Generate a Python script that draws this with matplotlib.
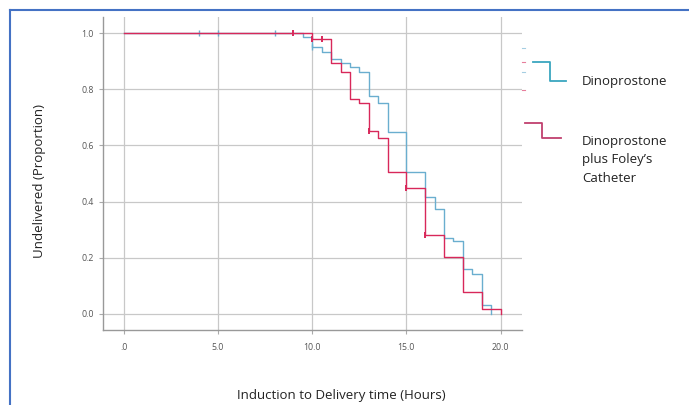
import matplotlib.pyplot as plt
from matplotlib.lines import Line2D

# Kaplan-Meier step data
dino_t = [0, 9.5, 10, 10.5, 11, 11.5, 12, 12.5, 13, 13.5, 14, 15, 16, 16.5, 17, 17.5, 18, 18.5, 19, 19.5]
dino_s = [1.0, 0.985, 0.949, 0.934, 0.906, 0.892, 0.880, 0.862, 0.776, 0.750, 0.649, 0.504,
          0.418, 0.374, 0.272, 0.258, 0.159, 0.142, 0.032, 0.0]
dino_cens_t = [4, 5, 8, 10]
dino_cens_s = [1.0, 1.0, 1.0, 0.949]

foley_t = [0, 10, 11, 11.5, 12, 12.5, 13, 13.5, 14, 15, 16, 17, 18, 19, 20]
foley_s = [1.0, 0.979, 0.894, 0.862, 0.765, 0.752, 0.651, 0.626, 0.507, 0.447, 0.281,
           0.204, 0.079, 0.016, 0.0]
foley_cens_t = [9, 10, 10.5, 13, 15, 16]
foley_cens_s = [1.0, 0.979, 0.979, 0.651, 0.447, 0.281]

xticks = [0, 5, 10, 15, 20]
xticklabels = ['.0', '5.0', '10.0', '15.0', '20.0']
yticks = [0.0, 0.2, 0.4, 0.6, 0.8, 1.0]
yticklabels = ['0.0', '0.2', '0.4', '0.6', '0.8', '1.0']

blue = '#6aaecf'
red = '#d8285a'
W, H = 689, 405
plt.rcParams['font.family'] = ['Open Sans', 'DejaVu Sans']

fig = plt.figure(figsize=(W / 100, H / 100), dpi=100)
ax = fig.add_axes([103 / W, 1 - 330 / H, (522 - 103) / W, (330 - 17) / H])

ax.step(dino_t, dino_s, where='post', color=blue, lw=1.0, zorder=3)
ax.plot(dino_cens_t, dino_cens_s, ls='none', marker='|', ms=5, mew=1.0, color=blue, zorder=3)
ax.step(foley_t, foley_s, where='post', color=red, lw=1.0, zorder=4)
ax.plot(foley_cens_t, foley_cens_s, ls='none', marker='|', ms=5, mew=1.4, color=red, zorder=4)

ax.set_xlim(-1.115, 21.14)
ax.set_ylim(-0.057, 1.057)
ax.set_xticks(xticks)
ax.set_xticklabels(xticklabels)
ax.set_yticks(yticks)
ax.set_yticklabels(yticklabels)
ax.grid(True, color='#c8c8c8', lw=0.9, zorder=0)
ax.tick_params(labelsize=6.3, labelcolor='#555555', color='#aaaaaa', length=3, width=0.8)
ax.tick_params(axis='x', pad=6)
for side in ['top', 'right']:
    ax.spines[side].set_visible(False)
for side in ['left', 'bottom']:
    ax.spines[side].set_color('#999999')
    ax.spines[side].set_linewidth(1.0)

fig.text(40 / W, 1 - 181 / H, 'Undelivered (Proportion)', rotation=90, ha='center', va='center',
         fontsize=9.5, color='#222222')
fig.text(341 / W, 1 - 396 / H, 'Induction to Delivery time (Hours)', ha='center', va='center',
         fontsize=9.5, color='#222222')

# legend drawn in pixel coordinates
def px(xs, ys):
    return [x / W for x in xs], [1 - y / H for y in ys]

for y, c in [(48, blue), (62, red), (72, blue), (90, red)]:
    fig.add_artist(Line2D(*px([522, 525], [y, y]), color=c, lw=0.8, alpha=0.6))
fig.add_artist(Line2D(*px([533, 550, 550, 566], [62, 62, 81, 81]), color='#3aa6bf', lw=1.3))
fig.add_artist(Line2D(*px([525, 542, 542, 561], [123, 123, 138, 138]), color='#c0406e', lw=1.3))
fig.text(582 / W, 1 - 81 / H, 'Dinoprostone', ha='left', va='center', fontsize=9.5, color='#222222')
fig.text(582 / W, 1 - 135 / H, 'Dinoprostone\nplus Foley\u2019s\nCatheter', ha='left', va='top',
         fontsize=9.5, color='#222222', linespacing=1.55)

# outer frame
fig.add_artist(Line2D(*px([10, 689], [10, 10]), color='#4472c4', lw=1.5))
fig.add_artist(Line2D(*px([10, 10], [10, 405]), color='#4472c4', lw=1.5))

fig.savefig('out.png', dpi=100)
